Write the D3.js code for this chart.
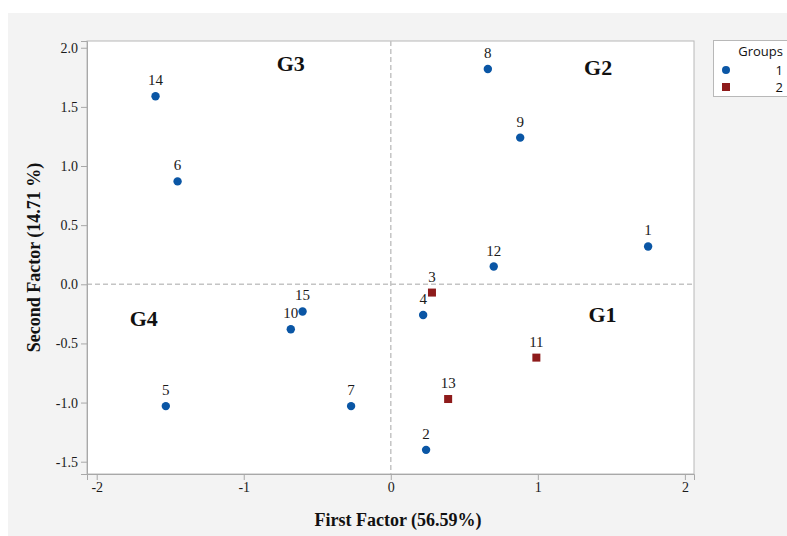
<!DOCTYPE html>
<html>
<head>
<meta charset="utf-8">
<script src="https://cdn.jsdelivr.net/npm/d3@7"></script>
<style>
  html, body { margin: 0; padding: 0; background: #ffffff; }
  svg { display: block; }
</style>
</head>
<body>
<svg id="chart" width="787" height="536"></svg>
<script>
// Factor scores per observation: id, first factor, second factor, group
const pointIds = [1, 2, 3, 4, 5, 6, 7, 8, 9, 10, 11, 12, 13, 14, 15];
const firstFactor = [1.75, 0.24, 0.28, 0.22, -1.53, -1.45, -0.27, 0.66, 0.88, -0.68, 0.99, 0.70, 0.39, -1.60, -0.60];
const secondFactor = [0.32, -1.40, -0.07, -0.26, -1.03, 0.87, -1.03, 1.82, 1.24, -0.38, -0.62, 0.15, -0.97, 1.59, -0.23];
const groups = [1, 1, 2, 1, 1, 1, 1, 1, 1, 1, 2, 1, 2, 1, 1];

const xTicks = [-2, -1, 0, 1, 2];
const yTicks = [-1.5, -1.0, -0.5, 0.0, 0.5, 1.0, 1.5, 2.0];
const groupNames = ["1", "2"];
const quadrantLabels = ["G1", "G2", "G3", "G4"];
const quadrantX = [1.44, 1.41, -0.68, -1.68];
const quadrantY = [-0.32, 1.77, 1.80, -0.35];

const xTitle = "First Factor (56.59%)";
const yTitle = "Second Factor (14.71 %)";

const W = 787, H = 536;
const plot = { left: 87, right: 694, top: 41, bottom: 474 };

const svg = d3.select("#chart");

// Grey panel behind the chart
svg.append("rect")
  .attr("x", 8).attr("y", 13)
  .attr("width", W - 8).attr("height", H - 13)
  .attr("fill", "#f3f3f3");

const x = d3.scaleLinear().domain([-2.066, 2.062]).range([plot.left, plot.right]);
const y = d3.scaleLinear().domain([-1.604, 2.057]).range([plot.bottom, plot.top]);

// Plot area
svg.append("rect")
  .attr("x", plot.left).attr("y", plot.top)
  .attr("width", plot.right - plot.left).attr("height", plot.bottom - plot.top)
  .attr("fill", "#ffffff")
  .attr("stroke", "#b8b8b8").attr("stroke-width", 1);

// Reference lines at zero
const ref = svg.append("g")
  .attr("stroke", "#c4c4c4").attr("stroke-width", 1.5)
  .attr("stroke-dasharray", "5,3");
ref.append("line")
  .attr("x1", plot.left).attr("x2", plot.right)
  .attr("y1", y(0)).attr("y2", y(0));
ref.append("line")
  .attr("x1", x(0)).attr("x2", x(0))
  .attr("y1", plot.top).attr("y2", plot.bottom);

// Axes
const xAxis = svg.append("g")
  .attr("transform", `translate(0,${plot.bottom})`)
  .call(d3.axisBottom(x).tickValues(xTicks).tickFormat(d3.format("d")).tickSize(6).tickPadding(2));
const yAxis = svg.append("g")
  .attr("transform", `translate(${plot.left},0)`)
  .call(d3.axisLeft(y).tickValues(yTicks).tickFormat(d3.format(".1f")).tickSize(6).tickPadding(3));

[xAxis, yAxis].forEach(a => {
  a.select(".domain").attr("stroke", "#a8a8a8");
  a.selectAll(".tick line").attr("stroke", "#a8a8a8");
  a.selectAll(".tick text")
    .attr("fill", "#1a1a1a")
    .style("font-family", "'Liberation Serif', 'Times New Roman', serif")
    .style("font-size", "14px");
});
yAxis.selectAll(".tick text").text(d => d3.format(".1f")(d).replace("−", "-"));
xAxis.selectAll(".tick text").text(d => String(d));

// Axis titles
svg.append("text")
  .attr("x", 398).attr("y", 526)
  .attr("text-anchor", "middle")
  .style("font-family", "'Liberation Serif', 'Times New Roman', serif")
  .style("font-size", "18px").style("font-weight", "bold")
  .attr("fill", "#111")
  .text(xTitle);

svg.append("text")
  .attr("transform", `translate(40,${(plot.top + plot.bottom) / 2}) rotate(-90)`)
  .attr("text-anchor", "middle")
  .style("font-family", "'Liberation Serif', 'Times New Roman', serif")
  .style("font-size", "18px").style("font-weight", "bold")
  .attr("fill", "#111")
  .text(yTitle);

// Quadrant labels
svg.append("g").selectAll("text")
  .data(quadrantLabels)
  .join("text")
  .attr("x", (d, i) => x(quadrantX[i]))
  .attr("y", (d, i) => y(quadrantY[i]))
  .attr("text-anchor", "middle")
  .style("font-family", "'Liberation Serif', 'Times New Roman', serif")
  .style("font-size", "22px").style("font-weight", "bold")
  .attr("fill", "#111")
  .text(d => d);

// Points
const colors = { 1: "#0a56a5", 2: "#8e1b1b" };
const pts = pointIds.map((id, i) => ({ id, fx: firstFactor[i], fy: secondFactor[i], g: groups[i] }));

const marks = svg.append("g");
marks.selectAll("circle")
  .data(pts.filter(d => d.g === 1))
  .join("circle")
  .attr("cx", d => x(d.fx)).attr("cy", d => y(d.fy))
  .attr("r", 4.2)
  .attr("fill", colors[1]);
marks.selectAll("rect")
  .data(pts.filter(d => d.g === 2))
  .join("rect")
  .attr("x", d => x(d.fx) - 4).attr("y", d => y(d.fy) - 4)
  .attr("width", 8).attr("height", 8)
  .attr("fill", colors[2]);

svg.append("g").selectAll("text")
  .data(pts)
  .join("text")
  .attr("x", d => x(d.fx)).attr("y", d => y(d.fy) - 11)
  .attr("text-anchor", "middle")
  .style("font-family", "'Liberation Serif', 'Times New Roman', serif")
  .style("font-size", "15px")
  .attr("fill", "#1a1a1a")
  .text(d => d.id);

// Legend
const legend = svg.append("g");
legend.append("rect")
  .attr("x", 713.5).attr("y", 40.5)
  .attr("width", 90).attr("height", 56)
  .attr("fill", "#ffffff").attr("stroke", "#b8b8b8");
legend.append("text")
  .attr("x", 783).attr("y", 56)
  .attr("text-anchor", "end")
  .style("font-family", "'Open Sans', 'Noto Sans', sans-serif")
  .style("font-size", "13px")
  .attr("fill", "#111")
  .text("Groups");
groupNames.forEach((g, i) => {
  const cy = 70 + i * 17;
  if (i === 0) {
    legend.append("circle").attr("cx", 726).attr("cy", cy).attr("r", 4).attr("fill", colors[1]);
  } else {
    legend.append("rect").attr("x", 722).attr("y", cy - 4).attr("width", 8).attr("height", 8).attr("fill", colors[2]);
  }
  legend.append("text")
    .attr("x", 783).attr("y", cy + 5)
    .attr("text-anchor", "end")
    .style("font-family", "'Open Sans', 'Noto Sans', sans-serif")
    .style("font-size", "13px")
    .attr("fill", "#111")
    .text(g);
});
</script>
</body>
</html>
